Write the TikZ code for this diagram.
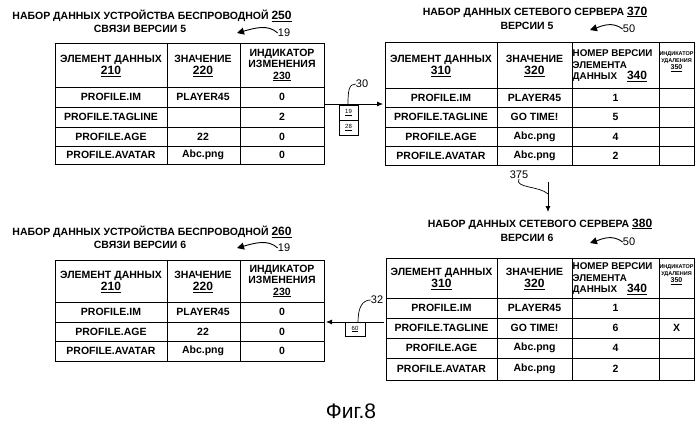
\documentclass[tikz,border=0pt]{standalone}
\usepackage{fontspec}
\setmainfont{Liberation Sans}
\usetikzlibrary{arrows.meta}
\begin{document}
\begin{tikzpicture}[x=1pt,y=-1pt,
  cell/.style={font=\bfseries\fontsize{10.5}{12}\selectfont,align=center,inner sep=0pt},
  hdr/.style={font=\bfseries\fontsize{10.5}{11.5}\selectfont,align=center,inner sep=0pt},
  tiny/.style={font=\bfseries\fontsize{5.5}{6.5}\selectfont,align=center,inner sep=0pt},
  ttl/.style={font=\bfseries\fontsize{10.5}{12}\selectfont,align=center,inner sep=0pt},
  num/.style={font=\fontsize{11}{12}\selectfont,inner sep=0pt},
  tline/.style={line width=0.8pt},
  conn/.style={line width=0.8pt,-{Latex[length=6pt,width=5pt]}},
  lead/.style={line width=0.7pt},
  wav/.style={line width=0.9pt,-{Triangle[length=7pt,width=7pt]}},
  stxt/.style={font=\fontsize{6}{7}\selectfont,inner sep=0pt}]
\useasboundingbox (0,0) rectangle (700,431);

% ===== Table 250 (top left)
\node[ttl] (t250a) at (152,16) {НАБОР ДАННЫХ УСТРОЙСТВА БЕСПРОВОДНОЙ \underline{\fontsize{12}{12}\selectfont 250}};
\node[ttl] (t250b) at (140,29) {СВЯЗИ ВЕРСИИ 5};
\node[num] (n19a) at (284,33) {19};
\coordinate (w19a) at (237,33);
\draw[wav] (n19a.west) .. controls (268,24) and (255,28) .. (w19a);
\draw[tline] (55,43) rectangle (324,164);
\foreach \y in {87,107,127,146} \draw[tline] (55,\y) -- (324,\y);
\foreach \x in {167,240} \draw[tline] (\x,43) -- (\x,164);
\node[hdr] (a1) at (111,66) {ЭЛЕМЕНТ ДАННЫХ\\\underline{\fontsize{12}{12}\selectfont 210}};
\node[hdr] (a2) at (203,66) {ЗНАЧЕНИЕ\\\underline{\fontsize{12}{12}\selectfont 220}};
\node[hdr] (a3) at (282,65) {ИНДИКАТОР\\ИЗМЕНЕНИЯ\\\underline{230}};
\node[cell] (a11) at (111,97) {PROFILE.IM};
\node[cell] (a12) at (203,97) {PLAYER45};
\node[cell] (a13) at (282,97) {0};
\node[cell] (a21) at (111,117) {PROFILE.TAGLINE};
\node[cell] (a23) at (282,117) {2};
\node[cell] (a31) at (111,136.5) {PROFILE.AGE};
\node[cell] (a32) at (203,136.5) {22};
\node[cell] (a33) at (282,136.5) {0};
\node[cell] (a41) at (111,155) {PROFILE.AVATAR};
\node[cell] (a42) at (203,155) {Abc.png};
\node[cell] (a43) at (282,155) {0};

% ===== Table 370 (top right)
\node[ttl] (t370a) at (535,12) {НАБОР ДАННЫХ СЕТЕВОГО СЕРВЕРА \underline{\fontsize{12}{12}\selectfont 370}};
\node[ttl] (t370b) at (527,26) {ВЕРСИИ 5};
\node[num] (n50a) at (629,29) {50};
\coordinate (w50a) at (590,30);
\draw[wav] (n50a.west) .. controls (612,21) and (602,26) .. (w50a);
\draw[tline] (385,42) rectangle (694,165);
\foreach \y in {88,107,127,146} \draw[tline] (385,\y) -- (694,\y);
\foreach \x in {497,572,659} \draw[tline] (\x,42) -- (\x,165);
\node[hdr] (b1) at (441,66) {ЭЛЕМЕНТ ДАННЫХ\\\underline{\fontsize{12}{12}\selectfont 310}};
\node[hdr] (b2) at (534.5,66) {ЗНАЧЕНИЕ\\\underline{\fontsize{12}{12}\selectfont 320}};
\node[hdr,align=left,anchor=west,font=\bfseries\fontsize{9.8}{11.5}\selectfont] (b3) at (572.5,66) {НОМЕР ВЕРСИИ\\ЭЛЕМЕНТА\\ДАННЫХ\hspace{10pt}\underline{\fontsize{12}{12}\selectfont 340}};
\node[tiny] (b4) at (676.5,62) {ИНДИКАТОР\\УДАЛЕНИЯ\\[1pt]\fontsize{7}{8}\selectfont\underline{350}};
\node[cell] (b11) at (441,97.5) {PROFILE.IM};
\node[cell] (b12) at (534.5,97.5) {PLAYER45};
\node[cell] (b13) at (615.5,97.5) {1};
\node[cell] (b21) at (441,117) {PROFILE.TAGLINE};
\node[cell] (b22) at (534.5,117) {GO TIME!};
\node[cell] (b23) at (615.5,117) {5};
\node[cell] (b31) at (441,136.5) {PROFILE.AGE};
\node[cell] (b32) at (534.5,136.5) {Abc.png};
\node[cell] (b33) at (615.5,136.5) {4};
\node[cell] (b41) at (441,155.5) {PROFILE.AVATAR};
\node[cell] (b42) at (534.5,155.5) {Abc.png};
\node[cell] (b43) at (615.5,155.5) {2};

% ===== Connector 30
\coordinate (c30s) at (325,104);
\coordinate (c30e) at (383,104);
\draw[conn] (c30s) -- (c30e);
\draw[lead] (339,105) rectangle (358,120);
\draw[lead] (339,120) rectangle (358,135);
\node[stxt] (bx19) at (348.5,112.5) {\underline{19}};
\node[stxt] (bx28) at (348.5,127.5) {\underline{28}};
\node[num] (n30) at (362,84) {30};
\draw[lead] (n30.west) .. controls (349,84) and (348,90) .. (348,104);

% ===== Connector 375
\node[num] (n375) at (519,175) {375};
\coordinate (c375s) at (548,182);
\coordinate (c375e) at (548,212);
\draw[conn] (c375s) -- (c375e);
\draw[lead] (n375.south) .. controls (514,188) and (540,186) .. (548,194);

% ===== Table 380 (bottom right)
\node[ttl] (t380a) at (540,224) {НАБОР ДАННЫХ СЕТЕВОГО СЕРВЕРА \underline{\fontsize{12}{12}\selectfont 380}};
\node[ttl] (t380b) at (527,238) {ВЕРСИИ 6};
\node[num] (n50b) at (629,242) {50};
\coordinate (w50b) at (590,243);
\draw[wav] (n50b.west) .. controls (612,234) and (602,239) .. (w50b);
\draw[tline] (386,258) rectangle (694,380);
\foreach \y in {298,318,338,358} \draw[tline] (386,\y) -- (694,\y);
\foreach \x in {497,572,659} \draw[tline] (\x,258) -- (\x,380);
\node[hdr] (d1) at (441.5,279) {ЭЛЕМЕНТ ДАННЫХ\\\underline{\fontsize{12}{12}\selectfont 310}};
\node[hdr] (d2) at (534.5,279) {ЗНАЧЕНИЕ\\\underline{\fontsize{12}{12}\selectfont 320}};
\node[hdr,align=left,anchor=west,font=\bfseries\fontsize{9.8}{11.5}\selectfont] (d3) at (572.5,279) {НОМЕР ВЕРСИИ\\ЭЛЕМЕНТА\\ДАННЫХ\hspace{10pt}\underline{\fontsize{12}{12}\selectfont 340}};
\node[tiny] (d4) at (676.5,275) {ИНДИКАТОР\\УДАЛЕНИЯ\\[1pt]\fontsize{7}{8}\selectfont\underline{350}};
\node[cell] (d11) at (441.5,308) {PROFILE.IM};
\node[cell] (d12) at (534.5,308) {PLAYER45};
\node[cell] (d13) at (615.5,308) {1};
\node[cell] (d21) at (441.5,328) {PROFILE.TAGLINE};
\node[cell] (d22) at (534.5,328) {GO TIME!};
\node[cell] (d23) at (615.5,328) {6};
\node[cell] (d24) at (676.5,328) {X};
\node[cell] (d31) at (441.5,348) {PROFILE.AGE};
\node[cell] (d32) at (534.5,348) {Abc.png};
\node[cell] (d33) at (615.5,348) {4};
\node[cell] (d41) at (441.5,369) {PROFILE.AVATAR};
\node[cell] (d42) at (534.5,369) {Abc.png};
\node[cell] (d43) at (615.5,369) {2};

% ===== Connector 32
\coordinate (c32s) at (384,322);
\coordinate (c32e) at (326,322);
\draw[conn] (c32s) -- (c32e);
\draw[lead] (345,322) rectangle (365,336);
\node[stxt] (bx60) at (355,329) {\underline{60}};
\node[num] (n32) at (377,300) {32};
\draw[lead] (n32.west) .. controls (362,300) and (358,308) .. (358,322);

% ===== Table 260 (bottom left)
\node[ttl] (t260a) at (152,232) {НАБОР ДАННЫХ УСТРОЙСТВА БЕСПРОВОДНОЙ \underline{\fontsize{12}{12}\selectfont 260}};
\node[ttl] (t260b) at (140,245) {СВЯЗИ ВЕРСИИ 6};
\node[num] (n19b) at (284,248) {19};
\coordinate (w19b) at (237,248);
\draw[wav] (n19b.west) .. controls (268,239) and (255,243) .. (w19b);
\draw[tline] (55,260) rectangle (324,361);
\foreach \y in {302,322,341} \draw[tline] (55,\y) -- (324,\y);
\foreach \x in {167,240} \draw[tline] (\x,260) -- (\x,361);
\node[hdr] (e1) at (111,282) {ЭЛЕМЕНТ ДАННЫХ\\\underline{\fontsize{12}{12}\selectfont 210}};
\node[hdr] (e2) at (203,282) {ЗНАЧЕНИЕ\\\underline{\fontsize{12}{12}\selectfont 220}};
\node[hdr] (e3) at (282,281) {ИНДИКАТОР\\ИЗМЕНЕНИЯ\\\underline{230}};
\node[cell] (e11) at (111,312) {PROFILE.IM};
\node[cell] (e12) at (203,312) {PLAYER45};
\node[cell] (e13) at (282,312) {0};
\node[cell] (e21) at (111,331.5) {PROFILE.AGE};
\node[cell] (e22) at (203,331.5) {22};
\node[cell] (e23) at (282,331.5) {0};
\node[cell] (e31) at (111,351) {PROFILE.AVATAR};
\node[cell] (e32) at (203,351) {Abc.png};
\node[cell] (e33) at (282,351) {0};

\node[font=\fontsize{21}{22}\selectfont,inner sep=0pt] (fig) at (351,411) {Фиг.8};
\end{tikzpicture}
\end{document}
